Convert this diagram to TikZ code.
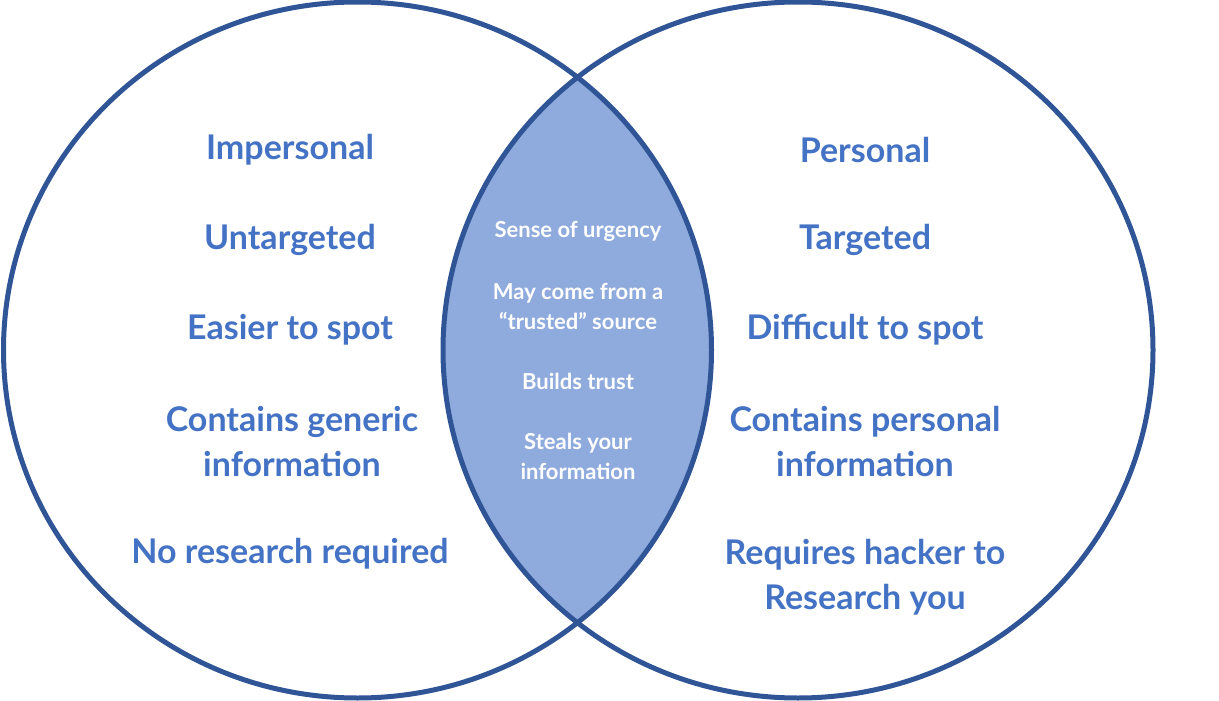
\documentclass[tikz,border=0pt]{standalone}
\usepackage{fontspec}
\setmainfont{Lato}
\definecolor{ringblue}{HTML}{2F5597}
\definecolor{lensblue}{HTML}{8FAADC}
\definecolor{textblue}{HTML}{4472C4}
\begin{document}
\begin{tikzpicture}[x=1pt,y=-1pt,
  ring/.style={draw=ringblue,line width=5pt},
  bigtxt/.style={text=textblue,font=\fontsize{34}{45}\selectfont\bfseries,align=center,inner sep=0pt},
  smalltxt/.style={text=white,font=\fontsize{22}{30}\selectfont\bfseries,align=center,inner sep=0pt}]
\useasboundingbox (0,0) rectangle (1219,701);
\begin{scope}
  \clip (357.5,350) ellipse [x radius=354, y radius=348];
  \fill[lensblue] (798,350) ellipse [x radius=355, y radius=348];
\end{scope}
\draw[ring] (357.5,350) ellipse [x radius=354, y radius=348];
\draw[ring] (798,350) ellipse [x radius=355, y radius=348];
% left
\node[bigtxt] (l1) at (290,150) {Impersonal};
\node[bigtxt] (l2) at (290,240) {Untargeted};
\node[bigtxt] (l3) at (290,330) {Easier to spot};
\node[bigtxt] (l4) at (292,442) {Contains generic\\ information};
\node[bigtxt] (l5) at (290,554) {No research required};
% right
\node[bigtxt] (r1) at (865,150) {Personal};
\node[bigtxt] (r2) at (865,240) {Targeted};
\node[bigtxt] (r3) at (865,330) {Difficult to spot};
\node[bigtxt] (r4) at (865,442) {Contains personal\\ information};
\node[bigtxt] (r5) at (865,577) {Requires hacker to\\ Research you};
% middle
\node[smalltxt] (m1) at (578,231) {Sense of urgency};
\node[smalltxt] (m2) at (578,306) {May come from a\\ “trusted” source};
\node[smalltxt] (m3) at (578,381) {Builds trust};
\node[smalltxt] (m4) at (578,456) {Steals your\\ information};
\end{tikzpicture}
\end{document}
